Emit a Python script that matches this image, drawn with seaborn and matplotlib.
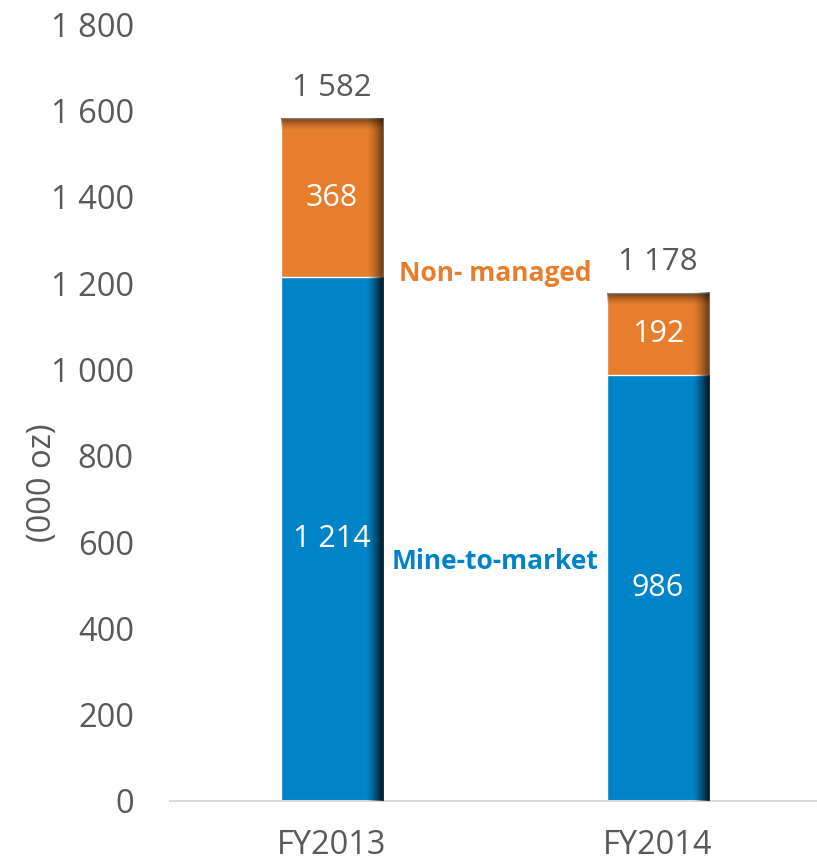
import numpy as np
import pandas as pd
import matplotlib.pyplot as plt
import seaborn as sns
from matplotlib.patches import Rectangle

years = ["FY2013", "FY2014"]
mine_to_market = [1214, 986]
non_managed = [368, 192]
totals = [1582, 1178]
yticks = [0, 200, 400, 600, 800, 1000, 1200, 1400, 1600, 1800]

blue = "#0083C7"
orange = "#E67E2E"
grey = "#595959"

sns.set_theme(style="white")
plt.rcParams["font.family"] = ["Open Sans", "DejaVu Sans"]

df = pd.DataFrame({"year": years, "mine": mine_to_market, "non": non_managed, "total": totals})

fig = plt.figure(figsize=(8.17, 8.65), dpi=100)
ax = fig.add_axes([0.208, 0.074, 0.792, 0.898])

# stacked bars: total in orange, mine-to-market over it in blue
sns.barplot(data=df, x="year", y="total", color=orange, width=0.313, saturation=1, ax=ax)
sns.barplot(data=df, x="year", y="mine", color=blue, width=0.313, saturation=1, ax=ax)

# inner shadow on the right side of each bar and the top of the stack
n = len(years)
top_bars = list(ax.patches[:n])
bot_bars = list(ax.patches[n:])
shade_x = np.zeros((2, 64, 4))
shade_x[..., 3] = np.linspace(0, 1, 64) ** 1.6 * 0.6
for p in top_bars + bot_bars:
    x0, w = p.get_x(), p.get_width()
    y0, h = p.get_y(), p.get_height()
    ax.imshow(shade_x, extent=[x0 + w * 0.83, x0 + w, y0, y0 + h], aspect="auto",
              origin="lower", interpolation="bilinear", zorder=3)
steps = 12
for p in top_bars:
    x0, w, h = p.get_x(), p.get_width(), p.get_height()
    dh = 28 / steps
    for k in range(steps):
        a = 0.5 * (1 - k / steps) ** 1.5
        ax.add_patch(Rectangle((x0, h - (k + 1) * dh), w, dh, facecolor="black",
                               alpha=a, lw=0, zorder=3))

def fmt(v):
    return f"{v:,}".replace(",", " ")

for i in range(n):
    ax.text(i, mine_to_market[i] / 2, fmt(mine_to_market[i]), ha="center", va="center",
            color="white", fontsize=22, zorder=4)
    ax.text(i, mine_to_market[i] + non_managed[i] / 2, fmt(non_managed[i]), ha="center",
            va="center", color="white", fontsize=22, zorder=4)
    ax.annotate(fmt(totals[i]), (i, totals[i]), xytext=(0, 11), textcoords="offset points",
                ha="center", va="bottom", color=grey, fontsize=22.5)

ax.text(0.5, 1222, "Non- managed", ha="center", va="center", color=orange,
        fontsize=19, fontweight="bold")
ax.text(0.5, 556, "Mine-to-market", ha="center", va="center", color=blue,
        fontsize=19, fontweight="bold")

ax.set_xlim(-0.497, 1.488)
ax.set_ylim(0, 1800)
ax.set_yticks(yticks)
ax.set_yticklabels([fmt(v) for v in yticks])
ax.tick_params(axis="y", labelsize=23.5, labelcolor=grey, length=0, pad=26)
ax.tick_params(axis="x", labelsize=23.5, labelcolor=grey, length=0, pad=20)
ax.set_xlabel("")
ax.set_ylabel("(000 oz)", fontsize=23.5, color=grey)
ax.yaxis.set_label_coords(-0.172, 0.41)
for s in ["top", "right", "left"]:
    ax.spines[s].set_visible(False)
ax.spines["bottom"].set_color("#D9D9D9")
ax.spines["bottom"].set_linewidth(1.5)

fig.savefig("out.png", dpi=100)
